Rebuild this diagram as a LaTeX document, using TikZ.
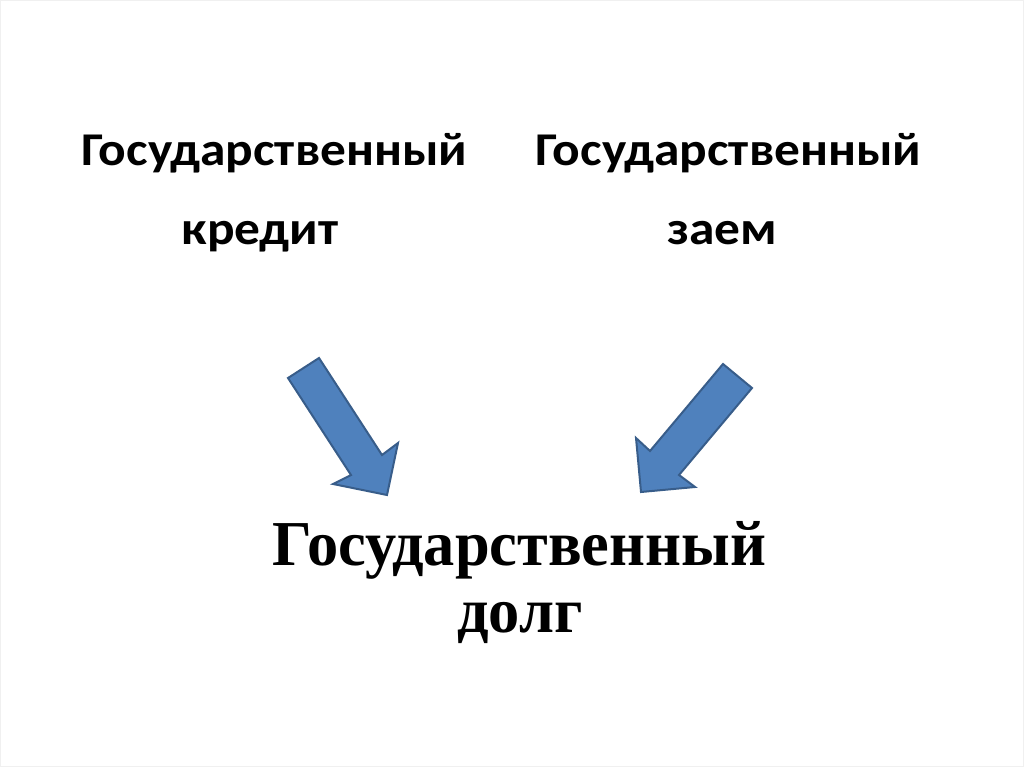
\documentclass[tikz,border=0pt]{standalone}
\usepackage{fontspec}
\setmainfont{Liberation Serif}
\newfontfamily\calibri{Carlito}
\newcommand\widetext[1]{\scalebox{1.094}[1]{#1}}
\newcommand\narrowtext[1]{\scalebox{0.975}[1]{#1}}
\definecolor{arrowfill}{HTML}{4F81BD}
\definecolor{arrowline}{HTML}{385D8A}
\tikzset{
	toplabel/.style={anchor=base, inner sep=0pt, font=\calibri\bfseries\fontsize{47}{56}\selectfont},
	debtlabel/.style={anchor=base, inner sep=0pt, font=\bfseries\fontsize{64}{76}\selectfont},
	blockarrow/.style={fill=arrowfill, draw=arrowline, line width=2pt, line join=miter}
}
\begin{document}
\begin{tikzpicture}[x=1pt, y=-1pt]
		\draw[gray!12, line width=1pt] (0.5,0.5) rectangle (1023.5,766.5);
		\useasboundingbox (0,0) rectangle (1024,767);
		% two sources
		\node[toplabel] (creditA) at (274.5,165.5) {\widetext{Государственный}};
		\node[toplabel] (creditB) at (260,244.5) {\widetext{кредит}};
		\node[toplabel] (loanA) at (728.5,165.5) {\widetext{Государственный}};
		\node[toplabel] (loanB) at (722,244.5) {\widetext{заем}};
		% result
		\node[debtlabel] (debtA) at (519.5,565) {\narrowtext{Государственный}};
		\node[debtlabel] (debtB) at (520,632) {\narrowtext{долг}};
		% arrows
		\filldraw[blockarrow] (288,378)--(319,358)--(382,455)--(398,443)--(387,495)--(333,484)--(351,475)--cycle;
		\filldraw[blockarrow] (723,364)--(752,388)--(679,475)--(695,487)--(641,492)--(636,438)--(650,451)--cycle;
	\end{tikzpicture}
\end{document}
